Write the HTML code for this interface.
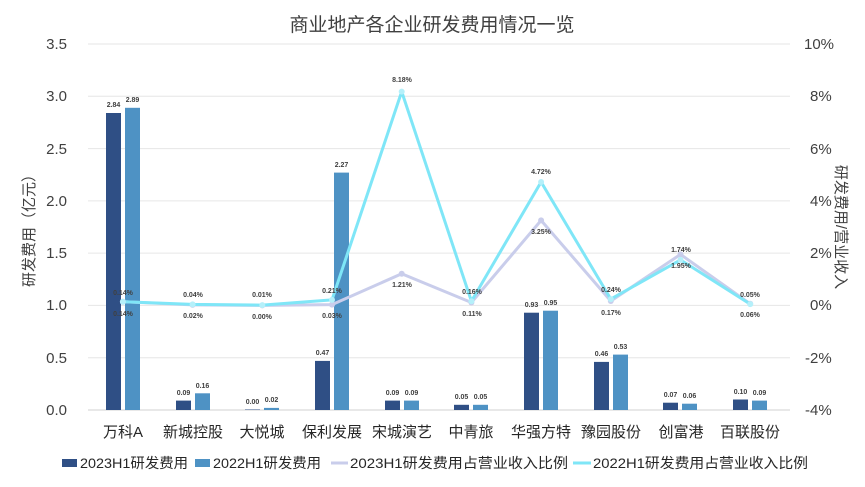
<!DOCTYPE html>
<html><head><meta charset="utf-8"><style>
body{margin:0;background:#fff}
svg{display:block;font-family:"Liberation Sans","Noto Sans CJK SC",sans-serif}
.t{font-size:15px;fill:#404040}
.v{font-size:7px;font-weight:bold;fill:#404040;text-anchor:middle}
.c{font-size:15px;fill:#262626;text-anchor:middle}
.lg{font-size:14px;fill:#262626}
</style></head><body>
<svg width="865" height="487" viewBox="0 0 865 487">
<text x="432" y="31" text-anchor="middle" style="font-size:19px;fill:#404040">商业地产各企业研发费用情况一览</text>
<g stroke="#e6e6e6" stroke-width="1">
<line x1="88" x2="790" y1="44" y2="44"/><line x1="88" x2="790" y1="96.3" y2="96.3"/><line x1="88" x2="790" y1="148.6" y2="148.6"/><line x1="88" x2="790" y1="200.9" y2="200.9"/><line x1="88" x2="790" y1="253.1" y2="253.1"/><line x1="88" x2="790" y1="305.4" y2="305.4"/><line x1="88" x2="790" y1="357.7" y2="357.7"/><line x1="88" x2="790" y1="410" y2="410" stroke="#d0d0d0"/>
</g>
<g class="t" text-anchor="end">
<text x="67" y="49">3.5</text><text x="67" y="101">3.0</text><text x="67" y="154">2.5</text><text x="67" y="206">2.0</text><text x="67" y="258">1.5</text><text x="67" y="310">1.0</text><text x="67" y="363">0.5</text><text x="67" y="415">0.0</text>
</g>
<g class="t" text-anchor="start">
<text x="804" y="49">10%</text><text x="810" y="101">8%</text><text x="810" y="154">6%</text><text x="810" y="206">4%</text><text x="810" y="258">2%</text><text x="810" y="310">0%</text><text x="805" y="363">-2%</text><text x="805" y="415">-4%</text>
</g>
<text transform="translate(34,227) rotate(-90)" text-anchor="middle" style="font-size:15px;fill:#404040">研发费用（亿元）</text>
<text transform="translate(836,227) rotate(90)" text-anchor="middle" style="font-size:15px;fill:#404040">研发费用/营业收入</text>
<g fill="#2f4f85">
<rect x="106" y="113" width="15" height="297"/><rect x="176" y="400.6" width="15" height="9.4"/><rect x="245" y="409.5" width="15" height="0.5"/><rect x="315" y="360.9" width="15" height="49.1"/><rect x="385" y="400.6" width="15" height="9.4"/><rect x="454" y="404.8" width="15" height="5.2"/><rect x="524" y="312.7" width="15" height="97.3"/><rect x="594" y="361.9" width="15" height="48.1"/><rect x="663" y="402.7" width="15" height="7.3"/><rect x="733" y="399.5" width="15" height="10.5"/>
</g>
<g fill="#4e92c4">
<rect x="125" y="107.8" width="15" height="302.2"/><rect x="195" y="393.3" width="15" height="16.7"/><rect x="264" y="407.9" width="15" height="2.1"/><rect x="334" y="172.6" width="15" height="237.4"/><rect x="404" y="400.6" width="15" height="9.4"/><rect x="473" y="404.8" width="15" height="5.2"/><rect x="543" y="310.7" width="15" height="99.3"/><rect x="613" y="354.6" width="15" height="55.4"/><rect x="682" y="403.7" width="15" height="6.3"/><rect x="752" y="400.6" width="15" height="9.4"/>
</g>
<g class="v">
<text x="113.5" y="107">2.84</text><text x="183.5" y="395">0.09</text><text x="252.5" y="404">0.00</text><text x="322.5" y="355">0.47</text><text x="392.5" y="395">0.09</text><text x="461.5" y="399">0.05</text><text x="531.5" y="307">0.93</text><text x="601.5" y="356">0.46</text><text x="670.5" y="397">0.07</text><text x="740.5" y="394">0.10</text>
<text x="132.5" y="102">2.89</text><text x="202.5" y="388">0.16</text><text x="271.5" y="402">0.02</text><text x="341.5" y="167">2.27</text><text x="411.5" y="395">0.09</text><text x="480.5" y="399">0.05</text><text x="550.5" y="305">0.95</text><text x="620.5" y="349">0.53</text><text x="689.5" y="398">0.06</text><text x="759.5" y="395">0.09</text>
</g>
<polyline fill="none" stroke="#c9cdeb" stroke-width="3" stroke-linejoin="round" points="122.9,301.7 192.6,304.9 262.3,305.4 332,304.6 401.7,273.8 471.4,302.5 541.1,220.4 610.8,301 680.5,254.4 750.2,303.8"/>
<g fill="#c9cdeb"><circle cx="122.9" cy="301.7" r="3"/><circle cx="192.6" cy="304.9" r="3"/><circle cx="262.3" cy="305.4" r="3"/><circle cx="332" cy="304.6" r="3"/><circle cx="401.7" cy="273.8" r="3"/><circle cx="471.4" cy="302.5" r="3"/><circle cx="541.1" cy="220.4" r="3"/><circle cx="610.8" cy="301" r="3"/><circle cx="680.5" cy="254.4" r="3"/><circle cx="750.2" cy="303.8" r="3"/></g>
<polyline fill="none" stroke="#7fe6f7" stroke-width="3" stroke-linejoin="round" points="122.9,301.7 192.6,304.4 262.3,305.1 332,299.9 401.7,91.6 471.4,301.2 541.1,182 610.8,299.1 680.5,259.9 750.2,304.1"/>
<g fill="#b5f0fa"><circle cx="122.9" cy="301.7" r="3"/><circle cx="192.6" cy="304.4" r="3"/><circle cx="262.3" cy="305.1" r="3"/><circle cx="332" cy="299.9" r="3"/><circle cx="401.7" cy="91.6" r="3"/><circle cx="471.4" cy="301.2" r="3"/><circle cx="541.1" cy="182" r="3"/><circle cx="610.8" cy="299.1" r="3"/><circle cx="680.5" cy="259.9" r="3"/><circle cx="750.2" cy="304.1" r="3"/></g>
<g class="v">
<text x="123" y="295">0.14%</text><text x="193" y="297">0.04%</text><text x="262" y="297">0.01%</text><text x="332" y="293">0.21%</text><text x="402" y="82">8.18%</text><text x="472" y="294">0.16%</text><text x="541" y="174">4.72%</text><text x="611" y="292">0.24%</text><text x="681" y="252">1.74%</text><text x="750" y="297">0.05%</text>
<text x="123" y="316">0.14%</text><text x="193" y="318">0.02%</text><text x="262" y="319">0.00%</text><text x="332" y="318">0.03%</text><text x="402" y="287">1.21%</text><text x="472" y="316">0.11%</text><text x="541" y="234">3.25%</text><text x="611" y="315">0.17%</text><text x="681" y="268">1.95%</text><text x="750" y="317">0.06%</text>
</g>
<g class="c">
<text x="123" y="437">万科A</text><text x="193" y="437">新城控股</text><text x="262" y="437">大悦城</text><text x="332" y="437">保利发展</text><text x="402" y="437">宋城演艺</text><text x="471" y="437">中青旅</text><text x="541" y="437">华强方特</text><text x="611" y="437">豫园股份</text><text x="681" y="437">创富港</text><text x="750" y="437">百联股份</text>
</g>
<rect x="62" y="459" width="15" height="8" fill="#2f4f85"/><text class="lg" x="80" y="468" textLength="108" lengthAdjust="spacingAndGlyphs">2023H1研发费用</text>
<rect x="195" y="459" width="15" height="8" fill="#4e92c4"/><text class="lg" x="213" y="468" textLength="108" lengthAdjust="spacingAndGlyphs">2022H1研发费用</text>
<line x1="331" x2="348" y1="463" y2="463" stroke="#c9cdeb" stroke-width="3"/><text class="lg" x="350" y="468" textLength="218" lengthAdjust="spacingAndGlyphs">2023H1研发费用占营业收入比例</text>
<line x1="573" x2="591" y1="463" y2="463" stroke="#7fe6f7" stroke-width="3"/><text class="lg" x="593" y="468" textLength="215" lengthAdjust="spacingAndGlyphs">2022H1研发费用占营业收入比例</text>
</svg>
</body></html>
